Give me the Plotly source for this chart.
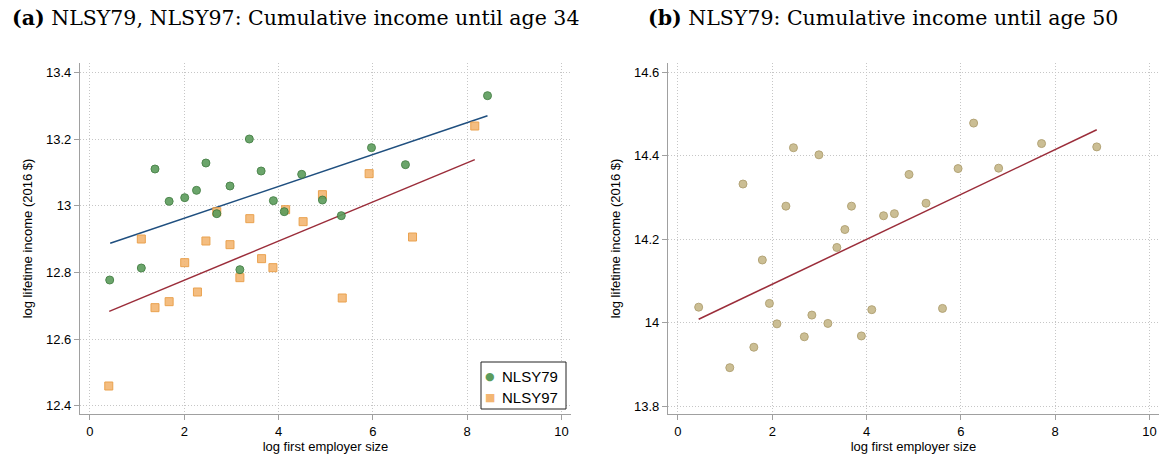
import plotly.graph_objects as go

# ---------- Data ----------
# Panel (a): NLSY79
a79_x = [0.42, 1.09, 1.38, 1.68, 2.01, 2.26, 2.46, 2.69, 2.97, 3.18, 3.38, 3.63, 3.89, 4.12, 4.49, 4.93, 5.33, 5.97, 6.69, 8.43]
a79_y = [12.777, 12.813, 13.110, 13.013, 13.024, 13.046, 13.128, 12.976, 13.059, 12.808, 13.200, 13.104, 13.015, 12.982, 13.094, 13.017, 12.970, 13.174, 13.123, 13.330]
# Panel (a): NLSY97
a97_x = [0.40, 1.09, 1.38, 1.68, 2.01, 2.28, 2.46, 2.69, 2.97, 3.18, 3.39, 3.64, 3.88, 4.15, 4.52, 4.93, 5.35, 5.92, 6.84, 8.16]
a97_y = [12.459, 12.900, 12.694, 12.712, 12.829, 12.741, 12.894, 12.982, 12.883, 12.784, 12.961, 12.841, 12.814, 12.988, 12.952, 13.033, 12.723, 13.096, 12.906, 13.239]
# Fitted lines panel (a)
fit79_x = [0.43, 8.43]
fit79_y = [12.887, 13.270]
fit97_x = [0.41, 8.16]
fit97_y = [12.683, 13.138]

# Panel (b): NLSY79 until age 50
b_x = [0.44, 1.10, 1.38, 1.61, 1.79, 1.94, 2.10, 2.29, 2.45, 2.68, 2.84, 2.99, 3.18, 3.37, 3.54, 3.68, 3.89, 4.11,
       4.36, 4.59, 4.90, 5.26, 5.61, 5.94, 6.27, 6.80, 7.71, 8.88]
b_y = [14.037, 13.892, 14.332, 13.941, 14.150, 14.046, 13.997, 14.279, 14.419, 13.966, 14.018, 14.402, 13.998, 14.180,
       14.223, 14.279, 13.968, 14.031, 14.256, 14.261, 14.355, 14.286, 14.034, 14.369, 14.478, 14.370, 14.429, 14.421]
fitb_x = [0.44, 8.88]
fitb_y = [14.008, 14.462]

x_ticks = [0, 2, 4, 6, 8, 10]
ya_ticks = [12.4, 12.6, 12.8, 13.0, 13.2, 13.4]
yb_ticks = [13.8, 14.0, 14.2, 14.4, 14.6]

series_names = ["NLSY79", "NLSY97"]
title_a = "<b>(a)</b> NLSY79, NLSY97: Cumulative income until age 34"
title_b = "<b>(b)</b> NLSY79: Cumulative income until age 50"
x_title = "log first employer size"
y_title = "log lifetime income (2016 $)"

# ---------- Styles ----------
W, H = 1163, 459


def px_x(p):
    return p / W


def px_y(p):
    return 1 - p / H


SANS = "Liberation Sans, Arial, Helvetica, sans-serif"
SERIF = "DejaVu Serif, Liberation Serif, serif"
GREEN, GREEN_E = "#5c9c5c", "#3b7a3b"
ORANGE, ORANGE_E = "#f3b673", "#e8993d"
TAN, TAN_E = "#c9bb8f", "#b0a070"
BLUE = "#1f4f7f"
RED = "#9b2d3a"
GRID = "#c6c6c6"

fig = go.Figure()

fig.add_trace(go.Scatter(x=fit79_x, y=fit79_y, mode="lines", line=dict(color=BLUE, width=1.5),
                         showlegend=False, xaxis="x", yaxis="y", hoverinfo="skip"))
fig.add_trace(go.Scatter(x=fit97_x, y=fit97_y, mode="lines", line=dict(color=RED, width=1.5),
                         showlegend=False, xaxis="x", yaxis="y", hoverinfo="skip"))
fig.add_trace(go.Scatter(x=a97_x, y=a97_y, mode="markers", name=series_names[1], showlegend=False,
                         marker=dict(symbol="square", size=8, color=ORANGE, opacity=0.9,
                                     line=dict(color=ORANGE_E, width=1)),
                         xaxis="x", yaxis="y"))
fig.add_trace(go.Scatter(x=a79_x, y=a79_y, mode="markers", name=series_names[0], showlegend=False,
                         marker=dict(symbol="circle", size=8, color=GREEN, opacity=0.9,
                                     line=dict(color=GREEN_E, width=1)),
                         xaxis="x", yaxis="y"))

fig.add_trace(go.Scatter(x=b_x, y=b_y, mode="markers", showlegend=False,
                         marker=dict(symbol="circle", size=8, color=TAN, opacity=0.95,
                                     line=dict(color=TAN_E, width=1)),
                         xaxis="x2", yaxis="y2"))
fig.add_trace(go.Scatter(x=fitb_x, y=fitb_y, mode="lines", line=dict(color=RED, width=1.5),
                         showlegend=False, xaxis="x2", yaxis="y2", hoverinfo="skip"))


def xaxis(domain, anchor):
    return dict(domain=domain, anchor=anchor, range=[-0.21, 10.2], tickvals=x_ticks,
                showgrid=True, gridcolor=GRID, griddash="1px,2px", gridwidth=1, zeroline=False,
                showline=True, linecolor="#a0a0a0", linewidth=1.3, ticks="outside", ticklen=5,
                tickcolor="#a0a0a0", tickfont=dict(family=SANS, size=13, color="#000"),
                title=dict(text=x_title, font=dict(family=SANS, size=13, color="#000"), standoff=4),
                automargin=False)


def yaxis(domain, anchor, rng, ticks):
    return dict(domain=domain, anchor=anchor, range=rng, tickvals=ticks,
                showgrid=True, gridcolor=GRID, griddash="1px,2px", gridwidth=1, zeroline=False,
                showline=True, linecolor="#a0a0a0", linewidth=1.3, ticks="outside", ticklen=5,
                tickcolor="#a0a0a0", tickfont=dict(family=SANS, size=13, color="#000"),
                title=dict(text=y_title, font=dict(family=SANS, size=13, color="#000"), standoff=10),
                automargin=False)


# legend box (drawn with shapes/annotations to match the compact original legend)
leg_x0, leg_x1, leg_y0, leg_y1 = 481, 566, 362, 409
legend_rows = [(376, "●", GREEN, series_names[0]), (397, "■", ORANGE, series_names[1])]

annotations = [
    dict(text=title_a, xref="paper", yref="paper", x=px_x(295), y=px_y(18), showarrow=False,
         xanchor="center", yanchor="middle", font=dict(family=SERIF, size=20.5, color="#000")),
    dict(text=title_b, xref="paper", yref="paper", x=px_x(883), y=px_y(18), showarrow=False,
         xanchor="center", yanchor="middle", font=dict(family=SERIF, size=20.5, color="#000")),
]
for yy, sym, col, name in legend_rows:
    annotations.append(dict(text=sym, xref="paper", yref="paper", x=px_x(490), y=px_y(yy), showarrow=False,
                            xanchor="center", yanchor="middle",
                            font=dict(family="DejaVu Sans", size=11, color=col)))
    annotations.append(dict(text=name, xref="paper", yref="paper", x=px_x(500), y=px_y(yy), showarrow=False,
                            xanchor="left", yanchor="middle",
                            font=dict(family=SANS, size=15, color="#000")))

ydom = [px_y(414), px_y(63)]
fig.update_layout(
    width=W, height=H,
    margin=dict(l=0, r=0, t=0, b=0),
    paper_bgcolor="white", plot_bgcolor="white",
    xaxis=xaxis([px_x(80), px_x(571)], "y"),
    yaxis=yaxis(ydom, "x", [12.375, 13.428], ya_ticks),
    xaxis2=xaxis([px_x(668), px_x(1159)], "y2"),
    yaxis2=yaxis(ydom, "x2", [13.781, 14.622], yb_ticks),
    showlegend=False,
    shapes=[dict(type="rect", xref="paper", yref="paper", x0=px_x(leg_x0), x1=px_x(leg_x1),
                 y0=px_y(leg_y1), y1=px_y(leg_y0), line=dict(color="#222", width=1),
                 fillcolor="white", layer="above")],
    annotations=annotations,
)

fig.write_html("out.html", config={"displayModeBar": False},
               post_script="document.body.style.margin='0';document.body.style.overflow='hidden';")
